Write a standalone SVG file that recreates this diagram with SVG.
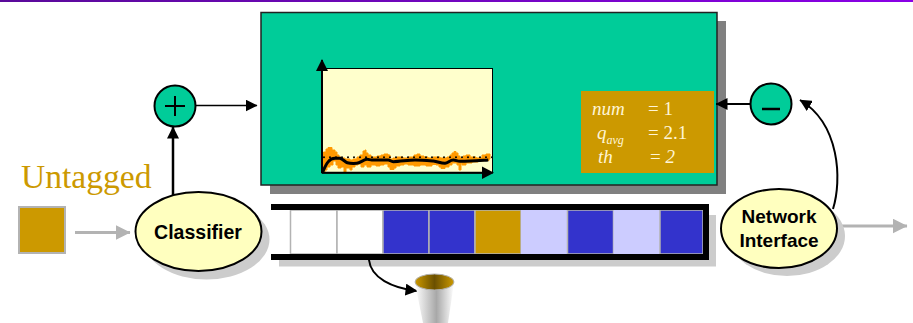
<svg xmlns="http://www.w3.org/2000/svg" width="913" height="323" viewBox="0 0 913 323">
<style>
.ln{fill:none;stroke:#000}
.g{fill:none;stroke:#b3b3b3;stroke-width:3}
.shadow{fill:#cccccc}
.node{fill:#ffffbf;stroke:#000;stroke-width:2}
.op{fill:#00cc99;stroke:#000;stroke-width:2}
.lbl{font-family:"Liberation Sans",Arial,sans-serif;font-weight:bold;font-size:19px;fill:#000;text-anchor:middle}
.s{font-family:"Liberation Serif","Times New Roman",serif;font-size:19px;fill:#fff5d6}
.i{font-style:italic}
.c{stroke:#b3b3b3;stroke-width:1.5}
.w{fill:#ffffff}.b{fill:#3333cc}.l{fill:#ccccff}.o{fill:#cc9900}
</style>
<defs>
<linearGradient id="top" x1="0" x2="1" y1="0" y2="0"><stop offset="0" stop-color="#5a0a9a"/><stop offset="1" stop-color="#8a00e6"/></linearGradient>
<linearGradient id="cup" x1="0" x2="1" y1="0" y2="0"><stop offset="0" stop-color="#ffffff"/><stop offset="0.55" stop-color="#a8a8a8"/><stop offset="1" stop-color="#ffffff"/></linearGradient>
<linearGradient id="cupTop" x1="0" x2="1" y1="0" y2="0"><stop offset="0" stop-color="#cc9900"/><stop offset="0.5" stop-color="#6b5000"/><stop offset="1" stop-color="#cc9900"/></linearGradient>
<marker id="ah" markerUnits="userSpaceOnUse" viewBox="0 0 12 12" refX="11.5" refY="6" markerWidth="12" markerHeight="12" orient="auto"><path d="M0 0L12 6L0 12Z" fill="#000"/></marker>
<marker id="ag" markerUnits="userSpaceOnUse" viewBox="0 0 15 15" refX="14.5" refY="7.5" markerWidth="15" markerHeight="15" orient="auto"><path d="M0 0L15 7.5L0 15Z" fill="#b3b3b3"/></marker>
</defs>
<rect x="0" y="0" width="913" height="2" fill="url(#top)"/>

<g id="queue-node">
<rect class="shadow" x="279" y="260" width="437" height="6.500"/>
<rect class="shadow" x="709" y="215" width="7" height="45"/>
<rect class="w c" x="290.500" y="210" width="46.500" height="44"/>
<rect class="w c" x="337" y="210" width="46" height="44"/>
<rect class="b c" x="383" y="210" width="46" height="44"/>
<rect class="b c" x="429" y="210" width="46" height="44"/>
<rect class="o c" x="475" y="210" width="46" height="44"/>
<rect class="l" x="521" y="210" width="46.500" height="44"/>
<rect class="b c" x="567.500" y="210" width="46" height="44"/>
<rect class="l" x="613.500" y="210" width="46.500" height="44"/>
<rect class="b c" x="660" y="210" width="43" height="44"/>
<path d="M271 204H709V260H271V254H703V210H271Z" fill="#000"/>
</g>

<g id="red-node">
<rect x="270" y="21" width="456" height="173" fill="#808080"/>
<rect x="261" y="12.500" width="456" height="172.500" fill="#00cc99" stroke="#222222" stroke-width="1.500"/>
<rect x="322" y="68.500" width="170.500" height="104.500" fill="#ffffcc" stroke="#000" stroke-width="1"/>
<path fill="#ff9900" stroke="#ff9900" stroke-width="1" d="M323.500 172V152L326 152V149L328 149V147.500L332 147.500V150L335 150V152L337 152V155L339 155V157L341 157V158L345 158V159L350 159V160L353 160V159L357 159V157L360 157V155L363 155V151L365 151V150L366 150V153L368 153V155L371 155V157L377 157V156L381 156V155L384 155V154L388 154V155L390 155V159L393 159V158L397 158V157L403 157V158L408 158V157L414 157V155L417 155V154L420 154V156L424 156V157L428 157V158L433 158V157L440 157V158L447 158V157L450 157V155L452 155V153L454 153V151.500L456 151.500V153L458 153V156L460 156V158L463 158V156L466 156V155L470 155V157L476 157V158L482 158V155L486 155V154L490 154V159L489 159V160.500L484 160.500V161L478 161V162L472 162V163L466 163V165L462 165V163L461 163V170L459 170V165L457 165V163L452 163V165L449 165V167L445 167V168.500L441 168.500V167L439 167V165L436 165V164.500L432 164.500V166L426 166V165L420 165V166L414 166V165L408 165V164L404 164V165L400 165V166L396 166V168L394 168V169.500L390 169.500V167L388 167V164L384 164V165L380 165V166L376 166V165L371 165V167L367 167V165L364 165V167L361 167V164L358 164V165L355 165V167L352 167V170L350 170V168L346 168V172L344 172V167L341 167V168L338 168V165L336 165V161L333 161V165L330 165V167L327 167V170L325 170V172Z"/>
<path d="M324 157.300H496" fill="none" stroke="#000" stroke-width="2" stroke-linecap="round" stroke-dasharray="0 6"/>
<path d="M322.700 172C325 167 326 164 328.300 161.700C330 159.500 332 158.300 335 158.300L340 158.300C343 159 345 162 347.300 162.700C350 163.500 354 163.500 356.700 163.300C360 163 363 160 366.700 159.300C368 159 370 160 371.700 160H388.300C390 160 391 161.700 393.300 161.700C400 161.700 408 160 415 160C421 160 427 160.500 433.300 161C438 161.500 441 163.500 445 163.300C448 163 450 160 453.300 160C456 160 457 161.300 460 161.300C470 161.300 480 160.500 488.300 160" fill="none" stroke="#000" stroke-width="3"/>
<path d="M322 173V60" class="ln" stroke-width="2"/>
<path d="M316 71L322 59L328 71Z" fill="#000"/>
<path d="M322 172.700H484" class="ln" stroke-width="2"/>
<path d="M482 166.500L494 172.700L482 179Z" fill="#000"/>
<rect x="581" y="91" width="133" height="82" fill="#cc9900"/>
<text class="s i" x="592" y="115">num</text>
<text class="s" x="648" y="115">= 1</text>
<text class="s i" x="597" y="139">q<tspan font-size="12" dy="5">avg</tspan></text>
<text class="s" x="648" y="139">= 2.1</text>
<text class="s i" x="598" y="163">th</text>
<text class="s" x="650" y="163">= <tspan class="i">2</tspan></text>
</g>

<g id="connectors">
<path class="g" d="M75 232.500H130" marker-end="url(#ag)"/>
<path class="g" d="M840 226H907" marker-end="url(#ag)"/>
<path class="ln" stroke-width="2.500" d="M173 195V127" marker-end="url(#ah)"/>
<path class="ln" stroke-width="1.500" d="M196 105.500H257" marker-end="url(#ah)"/>
<path class="ln" stroke-width="2" d="M751 104H716" marker-end="url(#ah)"/>
<path class="ln" stroke-width="2" d="M833 209C842 180 840 124 800 100" marker-end="url(#ah)"/>
<path class="ln" stroke-width="2" d="M369 260C371 278 392 288 417 291" marker-end="url(#ah)"/>
</g>

<g id="untagged-node">
<text x="21" y="188" font-family="'Liberation Serif','Times New Roman',serif" font-size="33.600" fill="#cc9900">Untagged</text>
<rect x="19" y="207" width="46" height="46" fill="#cc9900" stroke="#b3b3b3" stroke-width="2"/>
</g>

<g id="classifier-node">
<ellipse class="shadow" cx="206.500" cy="239.500" rx="63" ry="40"/>
<ellipse class="node" cx="198.500" cy="231.500" rx="63" ry="39.500"/>
<text class="lbl" x="198" y="238.500" style="font-size:19.500px">Classifier</text>
</g>

<g id="plus-node">
<circle class="op" cx="175" cy="106" r="20.500"/>
<path d="M165 106H185M175 96V116" class="ln" stroke-width="2"/>
</g>

<g id="minus-node">
<circle class="op" cx="771" cy="104" r="20.500"/>
<path d="M762 109H780" class="ln" stroke-width="2.500"/>
</g>

<g id="interface-node">
<ellipse class="shadow" cx="787" cy="236" rx="58" ry="40"/>
<ellipse class="node" cx="779" cy="228.500" rx="58" ry="39.500"/>
<text class="lbl" x="779" y="223">Network</text>
<text class="lbl" x="779" y="247">Interface</text>
</g>

<g id="cup-node">
<path d="M415 283L423 323H448L454 283Z" fill="url(#cup)"/>
<ellipse cx="434.500" cy="282" rx="19.500" ry="8" fill="url(#cupTop)" stroke="#b3b3b3" stroke-width="1"/>
</g>
</svg>
